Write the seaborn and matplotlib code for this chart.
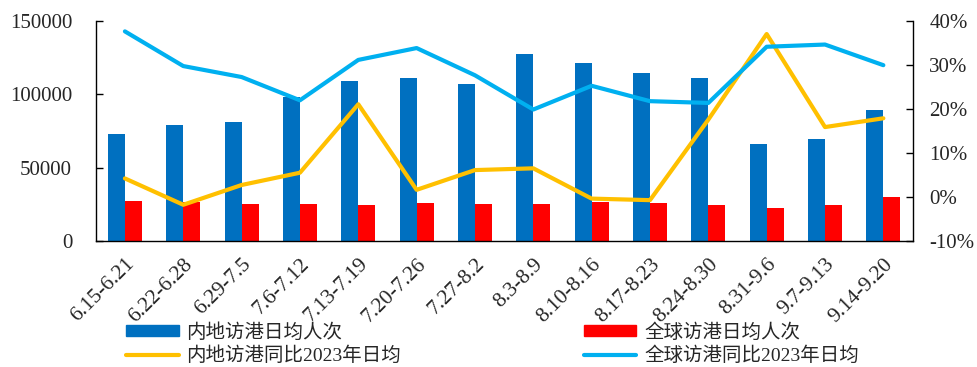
import matplotlib
matplotlib.use("Agg")
import matplotlib.pyplot as plt
import matplotlib.ticker as mticker
from matplotlib.patches import Patch
from matplotlib.lines import Line2D
import numpy as np
import pandas as pd
import seaborn as sns

weeks = ["6.15-6.21", "6.22-6.28", "6.29-7.5", "7.6-7.12", "7.13-7.19",
         "7.20-7.26", "7.27-8.2", "8.3-8.9", "8.10-8.16", "8.17-8.23",
         "8.24-8.30", "8.31-9.6", "9.7-9.13", "9.14-9.20"]
mainland_daily = [73200, 79300, 81400, 98000, 109000, 111400, 106900,
                  127400, 121500, 114900, 111200, 65900, 69500, 89400]
global_daily = [26900, 26300, 24900, 24900, 24200, 26000, 25300,
                25100, 26700, 25800, 24200, 22400, 24600, 29700]
mainland_yoy = [0.042, -0.018, 0.027, 0.055, 0.211, 0.016, 0.061,
                0.065, -0.004, -0.0075, 0.176, 0.371, 0.159, 0.179]
global_yoy = [0.377, 0.298, 0.273, 0.220, 0.312, 0.339, 0.277,
              0.199, 0.253, 0.218, 0.214, 0.342, 0.347, 0.300]

bar_names = ["内地访港日均人次", "全球访港日均人次"]
line_names = ["内地访港同比2023年日均", "全球访港同比2023年日均"]
bar_colors = ["#0070C0", "#FF0000"]
line_colors = ["#FFC000", "#00B0F0"]

sns.set_style("white")
plt.rcParams["font.family"] = ["Liberation Serif", "Noto Sans CJK SC"]
plt.rcParams["axes.unicode_minus"] = False

bars = pd.DataFrame({
    "week": weeks * 2,
    "value": mainland_daily + global_daily,
    "series": [bar_names[0]] * len(weeks) + [bar_names[1]] * len(weeks),
})

fig, ax = plt.subplots(figsize=(9.77, 3.67), dpi=100)
fig.subplots_adjust(left=0.098, right=0.934, top=0.942, bottom=0.344)

sns.barplot(data=bars, x="week", y="value", hue="series", palette=bar_colors,
            width=0.58, gap=0, saturation=1, linewidth=0, ax=ax, legend=False)

ax2 = ax.twinx()
pos = np.arange(len(weeks))
sns.lineplot(x=pos, y=mainland_yoy, color=line_colors[0], lw=3, ax=ax2)
sns.lineplot(x=pos, y=global_yoy, color=line_colors[1], lw=3, ax=ax2)

ax.set_xlim(-0.5, len(weeks) - 0.5)
ax.set_ylim(0, 150000)
ax.set_yticks([0, 50000, 100000, 150000])
ax2.set_ylim(-0.1, 0.4)
ax2.set_yticks(np.arange(-0.1, 0.41, 0.1))
ax2.yaxis.set_major_formatter(mticker.PercentFormatter(1.0, decimals=0))

# category boundaries carry the tick marks, labels sit at the centres
ax.set_xticks(np.arange(len(weeks) + 1) - 0.5)
ax.set_xticklabels([])
ax.set_xticks(pos, minor=True)
ax.set_xticklabels(weeks, minor=True, rotation=45, ha="right",
                   rotation_mode="anchor", fontsize=15.5)
ax.tick_params(axis="x", which="minor", length=0, pad=10)
ax.tick_params(axis="x", which="major", direction="in", length=5, width=1,
               color="black")
ax.tick_params(axis="y", direction="in", length=5, width=1, color="black",
               labelsize=15, pad=17)
ax2.tick_params(axis="y", direction="in", length=5, width=1, color="black",
                labelsize=15, pad=12)
ax.set_xlabel("")
ax.set_ylabel("")

for a in (ax, ax2):
    a.spines["top"].set_visible(False)
    for s in ("left", "right", "bottom"):
        a.spines[s].set_color("black")
        a.spines[s].set_linewidth(1)
ax.spines["right"].set_visible(False)
ax2.spines["left"].set_visible(False)
ax2.spines["bottom"].set_visible(False)

handles = [Patch(color=bar_colors[0]), Line2D([], [], color=line_colors[0], lw=3),
           Patch(color=bar_colors[1]), Line2D([], [], color=line_colors[1], lw=3)]
labels = [bar_names[0], line_names[0], bar_names[1], line_names[1]]
fig.legend(handles, labels, ncol=2, loc="upper left",
           bbox_to_anchor=(0.129, 0.12), frameon=False, fontsize=14,
           borderpad=0, borderaxespad=0,
           handlelength=2.7, handleheight=0.5, handletextpad=0.4,
           columnspacing=9.4, labelspacing=0.25)

fig.savefig("out.png", dpi=100)
